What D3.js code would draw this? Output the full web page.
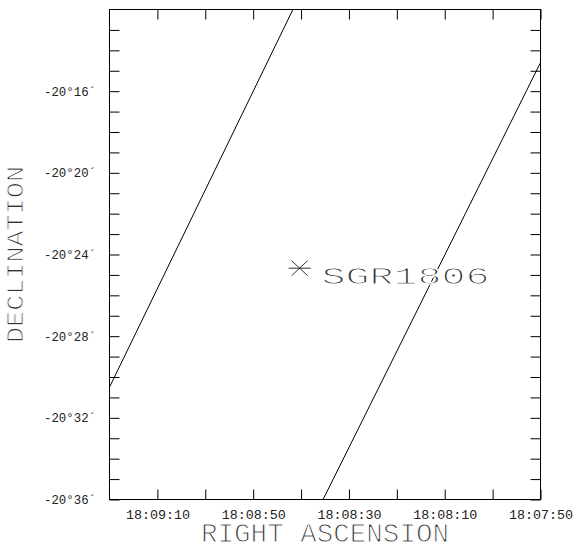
<!DOCTYPE html>
<html><head><meta charset="utf-8">
<script src="https://cdn.jsdelivr.net/npm/d3@7"></script>
<style>body{margin:0;background:#fff}svg{display:block}</style>
</head><body>
<svg id="c" width="577" height="544"></svg>
<script>
// Right ascension in seconds of time after 18h00m00s (axis runs right-to-left)
const raDomain = [560, 470];                 // 18:09:20 .. 18:07:50
// Declination in arcminutes below -20°
const decDomain = [12, 36];                  // -20°12' .. -20°36'
const raTicks = [550, 540, 530, 520, 510, 500, 490, 480, 470];
const raLabelValues = [550, 530, 510, 490, 470];
const raTickLabels = ["18:09:10", "18:08:50", "18:08:30", "18:08:10", "18:07:50"];
const decTicks = [13,14,15,16,17,18,19,20,21,22,23,24,25,26,27,28,29,30,31,32,33,34,35,36];
const decLabelValues = [16, 20, 24, 28, 32, 36];
const decTickLabels = ["-20°16´", "-20°20´", "-20°24´", "-20°28´", "-20°32´", "-20°36´"];
// Two parallel locus lines (endpoints)
const line1RA = [560, 521.7];
const line1Dec = [30.5, 12.0];
const line2RA = [515.4, 470];
const line2Dec = [36, 14.6];
// Source marker
const srcRA = [520.3];
const srcDec = [24.67];
const srcName = ["SGR1806"];

const svg = d3.select("#c");
const L = 109.5, R = 540.5, T = 9.5, B = 499.5;
const x = d3.scaleLinear().domain(raDomain).range([L, R]);
const y = d3.scaleLinear().domain(decDomain).range([T, B]);
const mono = "'Liberation Mono', 'DejaVu Sans Mono', monospace";

svg.append("defs").append("clipPath").attr("id", "plot")
  .append("rect").attr("x", L).attr("y", T).attr("width", R - L).attr("height", B - T);

// frame
svg.append("rect").attr("x", L).attr("y", T).attr("width", R - L).attr("height", B - T)
  .attr("fill", "none").attr("stroke", "#000").attr("stroke-width", 1);

const raLab = d => { const i = raLabelValues.indexOf(d); return i >= 0 ? raTickLabels[i] : ""; };
const decLab = d => { const i = decLabelValues.indexOf(d); return i >= 0 ? decTickLabels[i] : ""; };

function styleAxis(g) {
  g.select(".domain").remove();
  g.selectAll(".tick line").attr("stroke", "#000").attr("stroke-width", 1);
  g.attr("font-family", mono).attr("font-size", 12);
}
// thin, plotter-like lettering: erode glyph edges with a white stroke painted over the fill
function thin(sel, w) {
  sel.attr("stroke", "#fff").attr("stroke-width", w).attr("paint-order", "fill").attr("opacity", 0.999);
}

const gB = svg.append("g").attr("transform", `translate(0,${B})`)
  .call(d3.axisBottom(x).tickValues(raTicks).tickSizeInner(-10).tickSizeOuter(0).tickPadding(8).tickFormat(raLab))
  .call(styleAxis);
gB.selectAll(".tick text").attr("fill", "#222").attr("dy", "0.71em")
  .attr("y", 10.5)
  .each(function(d){ if (raLab(d)) d3.select(this).attr("textLength", 64).attr("lengthAdjust", "spacingAndGlyphs"); });

svg.append("g").attr("transform", `translate(0,${T})`)
  .call(d3.axisTop(x).tickValues(raTicks).tickSizeInner(-10).tickSizeOuter(0).tickFormat(() => ""))
  .call(styleAxis);

const gL = svg.append("g").attr("transform", `translate(${L},0)`)
  .call(d3.axisLeft(y).tickValues(decTicks).tickSizeInner(-10).tickSizeOuter(0).tickPadding(0).tickFormat(decLab))
  .call(styleAxis);
gL.selectAll(".tick text").attr("fill", "#222").attr("text-anchor", "start").attr("x", 44 - L)
  .attr("font-size", 12)
  .each(function(d){ if (decLab(d)) d3.select(this).attr("textLength", 52).attr("lengthAdjust", "spacingAndGlyphs"); });

svg.append("g").attr("transform", `translate(${R},0)`)
  .call(d3.axisRight(y).tickValues(decTicks).tickSizeInner(-10).tickSizeOuter(0).tickFormat(() => ""))
  .call(styleAxis);

// locus lines
const line = d3.line().x(d => x(d[0])).y(d => y(d[1]));
const loci = [d3.zip(line1RA, line1Dec), d3.zip(line2RA, line2Dec)];
svg.append("g").attr("clip-path", "url(#plot)")
  .selectAll("path").data(loci).join("path")
  .attr("d", line).attr("fill", "none").attr("stroke", "#000").attr("stroke-width", 1);

// source marker
const src = d3.zip(srcRA, srcDec, srcName);
const gs = svg.append("g").selectAll("g").data(src).join("g")
  .attr("transform", d => `translate(${x(d[0])},${y(d[1])})`);
gs.append("path").attr("d", "M-11,0H11M-8,-7.5L8,7.5M-8,7.5L8,-7.5")
  .attr("stroke", "#333").attr("stroke-width", 1).attr("fill", "none");
gs.append("text").text(d => d[2]).attr("x", 22).attr("y", 15.5)
  .attr("font-family", mono).attr("font-size", 23).attr("fill", "#333")
  .attr("textLength", 168).attr("lengthAdjust", "spacingAndGlyphs")
  .call(thin, 1);

// axis titles
svg.append("text").text("RIGHT ASCENSION")
  .attr("x", (L + R) / 2).attr("y", 541.5).attr("text-anchor", "middle")
  .attr("font-family", mono).attr("font-size", 27).attr("fill", "#333")
  .attr("textLength", 248).attr("lengthAdjust", "spacingAndGlyphs")
  .call(thin, 1.1);
svg.append("text").text("DECLINATION")
  .attr("transform", `translate(22.5,${(T + B) / 2}) rotate(-90)`).attr("text-anchor", "middle")
  .attr("font-family", mono).attr("font-size", 23.5).attr("fill", "#333")
  .attr("textLength", 177).attr("lengthAdjust", "spacingAndGlyphs")
  .call(thin, 1);
</script>
</body></html>
